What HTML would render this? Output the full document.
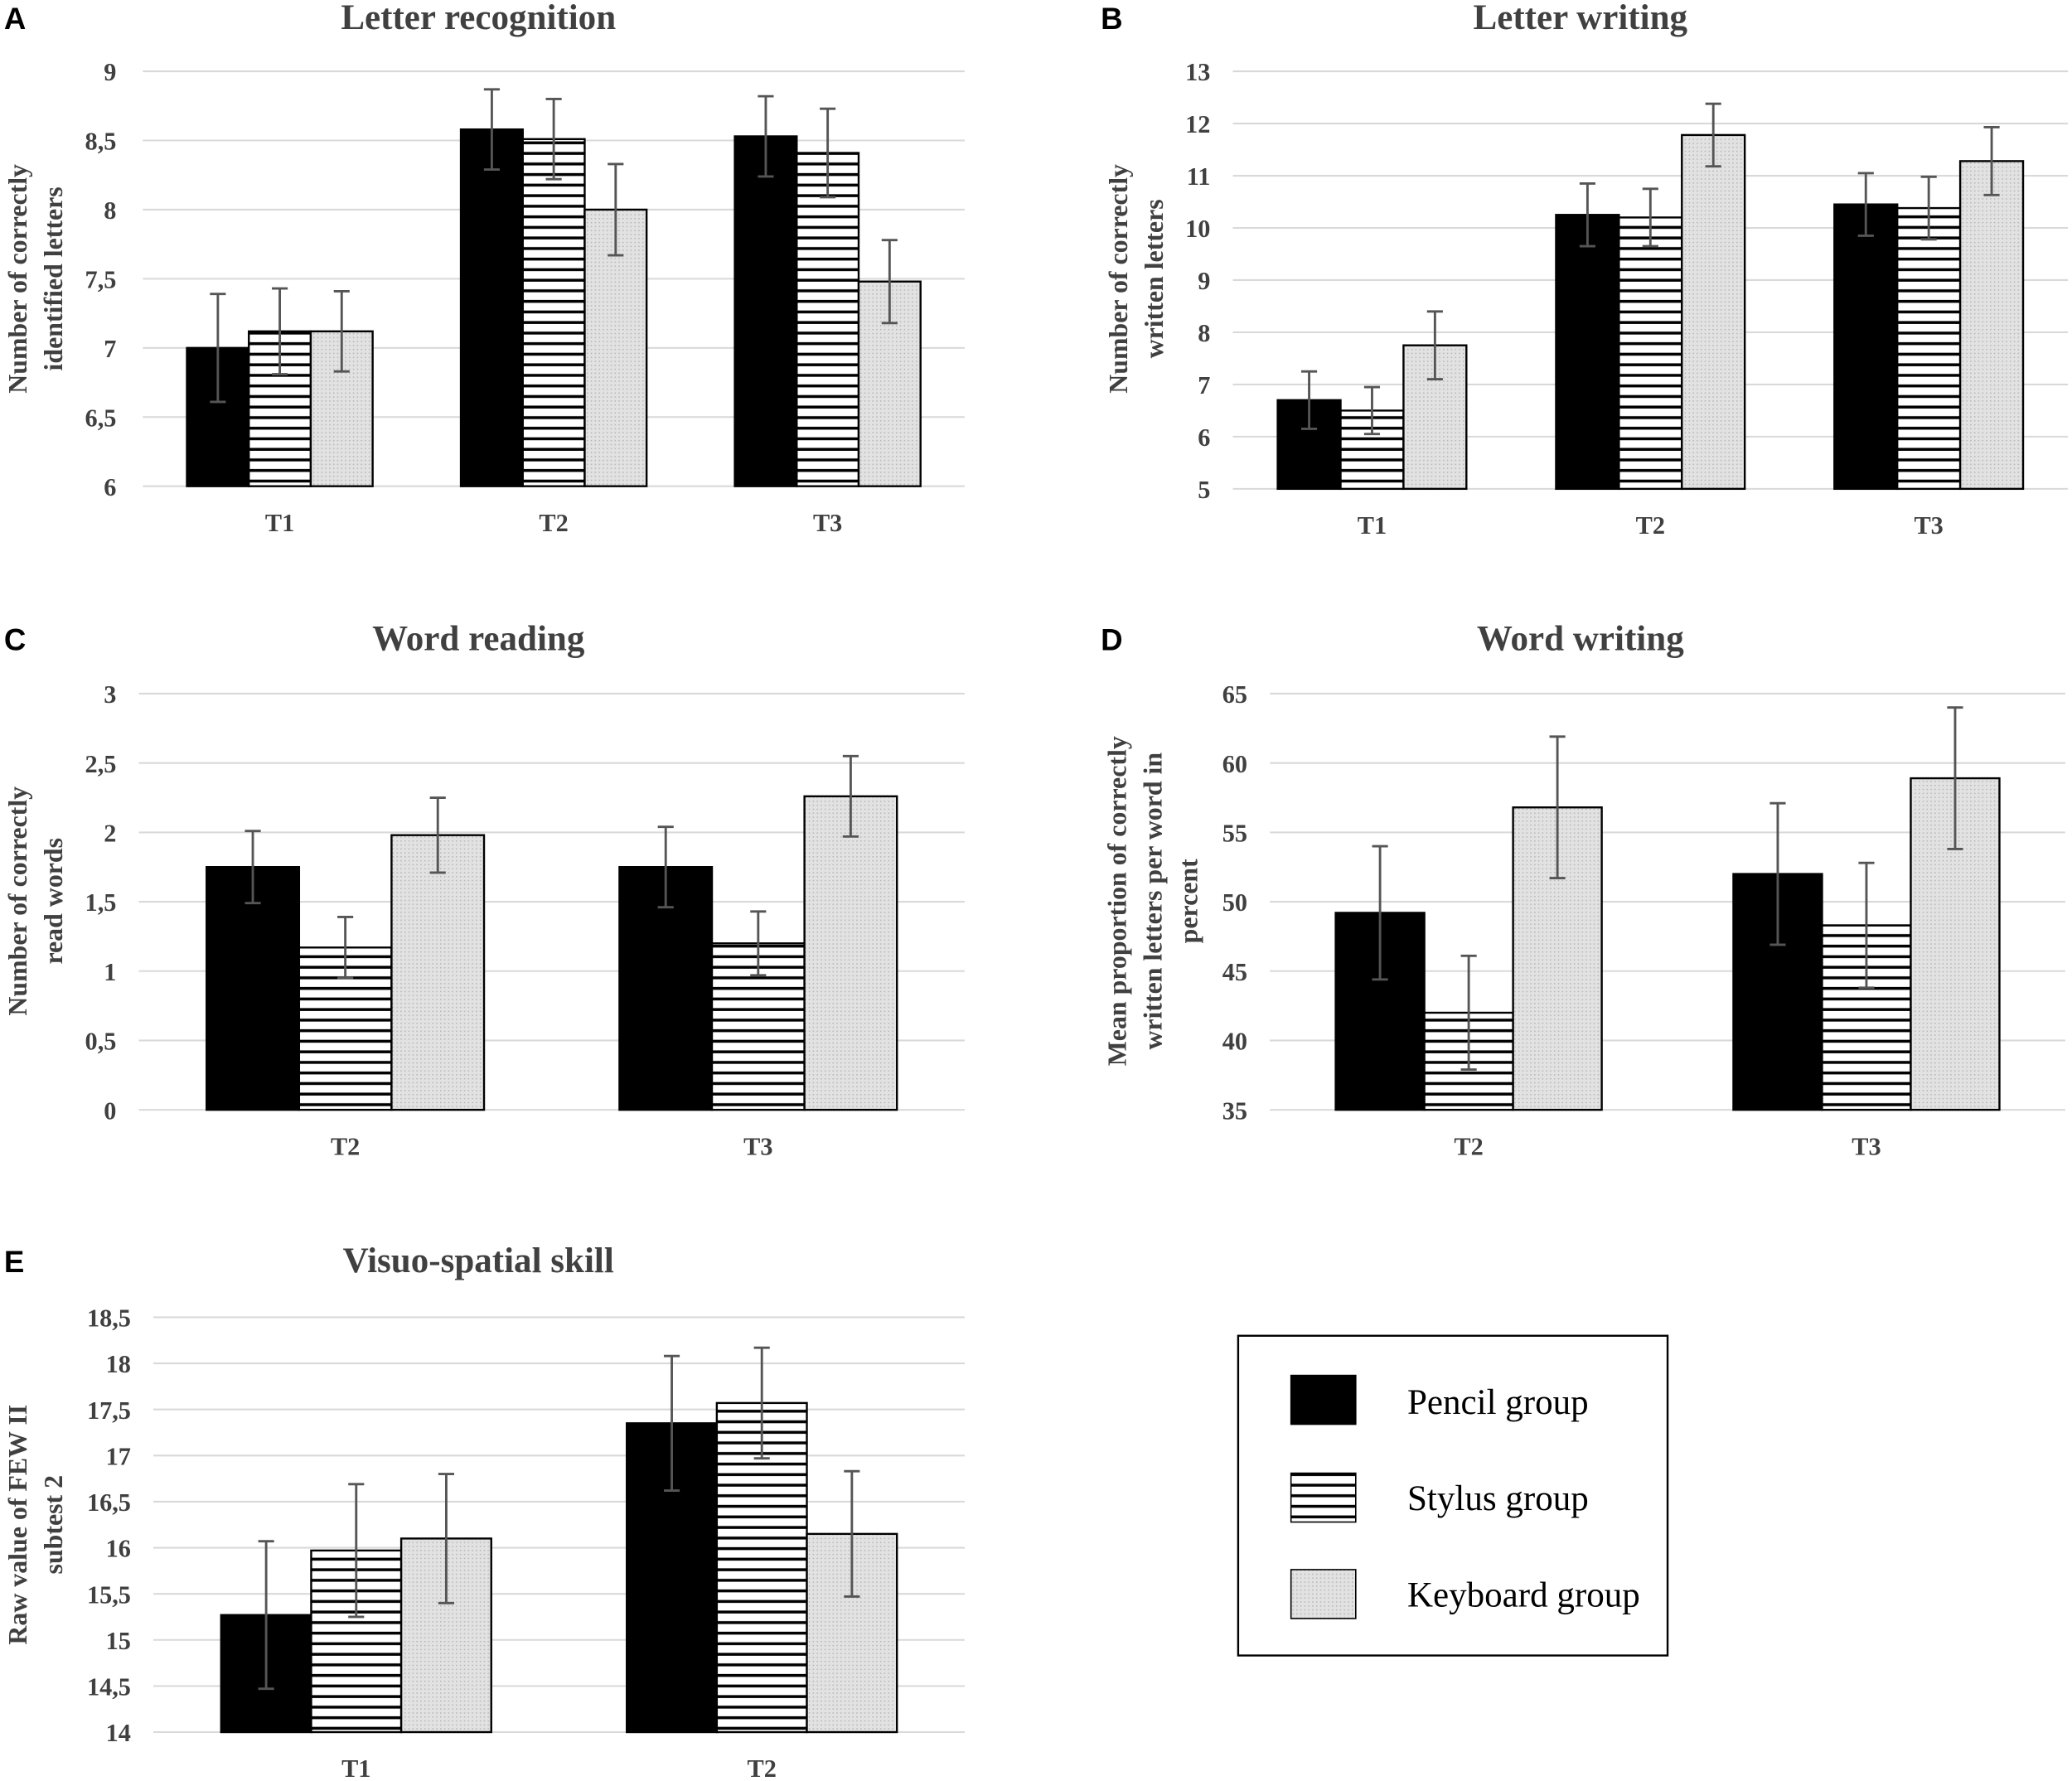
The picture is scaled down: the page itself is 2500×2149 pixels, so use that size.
<!DOCTYPE html>
<html><head><meta charset="utf-8"><style>
html,body{margin:0;padding:0;background:#fff;}
svg{display:block;}
text{font-family:"Liberation Serif",serif;fill:#404040;}
.tick{font-size:19px;font-weight:bold;}
.title{font-size:27px;font-weight:bold;}
.ylab{font-size:20px;font-weight:bold;}
.plabel{font-family:"Liberation Sans",sans-serif;font-size:23px;font-weight:bold;fill:#000;}
.leg{font-size:27px;fill:#000;}
</style></head><body>
<svg id="fig" width="2500" height="2149" viewBox="0 0 1568 1348" xmlns="http://www.w3.org/2000/svg">
<defs>
<pattern id="stripes" patternUnits="userSpaceOnUse" width="8" height="8"><rect width="8" height="8" fill="#fff"/><rect y="3" width="8" height="2.2" fill="#000"/></pattern>
<pattern id="dots" patternUnits="userSpaceOnUse" width="3" height="3"><rect width="3" height="3" fill="#e2e2e2"/><rect width="1" height="1" fill="#b8b8b8"/></pattern>
</defs>
<g id="panels"></g>
<g>
<rect x="937" y="1011" width="325" height="242" fill="#fff" stroke="#000" stroke-width="1.5"/>
<rect x="977" y="1041" width="49" height="37" fill="#000" stroke="#000"/>
<text class="leg" x="1065" y="1070">Pencil group</text>
<rect x="977" y="1115" width="49" height="37" fill="url(#stripes)" stroke="#000"/>
<text class="leg" x="1065" y="1143">Stylus group</text>
<rect x="977" y="1188" width="49" height="37" fill="url(#dots)" stroke="#000"/>
<text class="leg" x="1065" y="1216">Keyboard group</text>
</g>
</svg>
<script>
// Panel A
const catsA = ["T1","T2","T3"];
const pencilA = [7.0, 8.58, 8.53];
const stylusA = [7.12, 8.51, 8.41];
const keyboardA = [7.12, 8.0, 7.48];
const errPencilA = [0.39, 0.29, 0.29];
const errStylusA = [0.31, 0.29, 0.32];
const errKeyboardA = [0.29, 0.33, 0.3];
const ticksA = ["6","6,5","7","7,5","8","8,5","9"];
// Panel B
const catsB = ["T1","T2","T3"];
const pencilB = [6.7, 10.25, 10.45];
const stylusB = [6.5, 10.2, 10.38];
const keyboardB = [7.75, 11.78, 11.28];
const errPencilB = [0.55, 0.6, 0.6];
const errStylusB = [0.45, 0.55, 0.6];
const errKeyboardB = [0.65, 0.6, 0.65];
const ticksB = ["5","6","7","8","9","10","11","12","13"];
// Panel C
const catsC = ["T2","T3"];
const pencilC = [1.75, 1.75];
const stylusC = [1.17, 1.2];
const keyboardC = [1.98, 2.26];
const errPencilC = [0.26, 0.29];
const errStylusC = [0.22, 0.23];
const errKeyboardC = [0.27, 0.29];
const ticksC = ["0","0,5","1","1,5","2","2,5","3"];
// Panel D
const catsD = ["T2","T3"];
const pencilD = [49.2, 52.0];
const stylusD = [42.0, 48.3];
const keyboardD = [56.8, 58.9];
const errPencilD = [4.8, 5.1];
const errStylusD = [4.1, 4.5];
const errKeyboardD = [5.1, 5.1];
const ticksD = ["35","40","45","50","55","60","65"];
// Panel E
const catsE = ["T1","T2"];
const pencilE = [15.27, 17.35];
const stylusE = [15.97, 17.57];
const keyboardE = [16.1, 16.15];
const errPencilE = [0.8, 0.73];
const errStylusE = [0.72, 0.6];
const errKeyboardE = [0.7, 0.68];
const ticksE = ["14","14,5","15","15,5","16","16,5","17","17,5","18","18,5"];

const NS = "http://www.w3.org/2000/svg";
const root = document.getElementById("panels");
function mk(tag, attrs, parent){const e=document.createElementNS(NS,tag);for(const k in attrs)e.setAttribute(k,attrs[k]);parent.appendChild(e);return e;}

function panel(cfg){
  const g = mk("g",{},root);
  
  
  const ymin=parseFloat(cfg.ticks[0].replace(',','.')), ymax=parseFloat(cfg.ticks[cfg.ticks.length-1].replace(',','.'));
  const y = v => cfg.y0 - (v-ymin)/(ymax-ymin)*(cfg.y0-cfg.y1);
  cfg.ticks.forEach(t=>{
    const v=parseFloat(t.replace(',','.'));
    const gl=mk("line",{x1:cfg.x0,x2:cfg.x1,y1:y(v),y2:y(v),stroke:"#d9d9d9","stroke-width":1.3},g);
    
    
    const tx=mk("text",{x:cfg.tlx,y:y(v)+7,"text-anchor":"end",class:"tick"},g);
    
    
    tx.textContent=t;
  });
  const cw=(cfg.x1-cfg.x0)/cfg.cats.length, bw=cw*cfg.bf;
  const series=[[cfg.p,cfg.ep,"#000","pencil"],[cfg.s,cfg.es,"url(#stripes)","stylus"],[cfg.k,cfg.ek,"url(#dots)","keyboard"]];
  cfg.cats.forEach((c,i)=>{
    const cx=cfg.x0+cw*(i+0.5);
    series.forEach((s,j)=>{
      const bx=cx+(j-1.5)*bw, v=s[0][i], e=s[1][i];
      const r=mk("rect",{x:bx,y:y(v),width:bw,height:y(ymin)-y(v),fill:s[2],stroke:"#000","stroke-width":1.5},g);
      
      
      const mx=bx+bw/2;
      const eb=mk("path",{d:`M${mx},${y(v-e)}V${y(v+e)}M${mx-6},${y(v-e)}h12M${mx-6},${y(v+e)}h12`,stroke:"#555","stroke-width":1.8,fill:"none"},g);
      
      
    });
    const xl=mk("text",{x:cx,y:cfg.y0+34,"text-anchor":"middle",class:"tick"},g);
    
    
    xl.textContent=c;
  });
  const ti=mk("text",{x:cfg.tx,y:cfg.ty,"text-anchor":"middle",class:"title"},g);
  
  
  ti.textContent=cfg.title;
  const pl=mk("text",{x:cfg.lx,y:cfg.ty,class:"plabel"},g);
  
  
  pl.textContent=cfg.letter;
  cfg.ylab.forEach((line,k)=>{
    const xx=cfg.yx+k*27;
    const yl=mk("text",{x:xx,y:cfg.yc,"text-anchor":"middle",class:"ylab",transform:`rotate(-90 ${xx} ${cfg.yc})`},g);
    
    
    yl.textContent=line;
  });
}
panel({letter:"A",title:"Letter recognition",tx:362,ty:22,lx:3,x0:108,x1:730,tlx:88,y0:368,y1:54,bf:0.226,cats:catsA,p:pencilA,s:stylusA,k:keyboardA,ep:errPencilA,es:errStylusA,ek:errKeyboardA,ticks:ticksA,ylab:["Number of correctly","identified letters"],yx:20,yc:211});
panel({letter:"B",title:"Letter writing",tx:1196,ty:22,lx:833,x0:933,x1:1565,tlx:916,y0:370,y1:54,bf:0.226,cats:catsB,p:pencilB,s:stylusB,k:keyboardB,ep:errPencilB,es:errStylusB,ek:errKeyboardB,ticks:ticksB,ylab:["Number of correctly","written letters"],yx:853,yc:211});
panel({letter:"C",title:"Word reading",tx:362,ty:492,lx:3,x0:105,x1:730,tlx:88,y0:840,y1:525,bf:0.224,cats:catsC,p:pencilC,s:stylusC,k:keyboardC,ep:errPencilC,es:errStylusC,ek:errKeyboardC,ticks:ticksC,ylab:["Number of correctly","read words"],yx:20,yc:682});
panel({letter:"D",title:"Word writing",tx:1196,ty:492,lx:833,x0:961,x1:1563,tlx:944,y0:840,y1:525,bf:0.223,cats:catsD,p:pencilD,s:stylusD,k:keyboardD,ep:errPencilD,es:errStylusD,ek:errKeyboardD,ticks:ticksD,ylab:["Mean proportion of correctly","written letters per word in","percent"],yx:852,yc:682});
panel({letter:"E",title:"Visuo-spatial skill",tx:362,ty:963,lx:3,x0:116,x1:730,tlx:99,y0:1311,y1:997,bf:0.222,cats:catsE,p:pencilE,s:stylusE,k:keyboardE,ep:errPencilE,es:errStylusE,ek:errKeyboardE,ticks:ticksE,ylab:["Raw value of FEW II","subtest 2"],yx:20,yc:1154});
</script>
</body></html>
